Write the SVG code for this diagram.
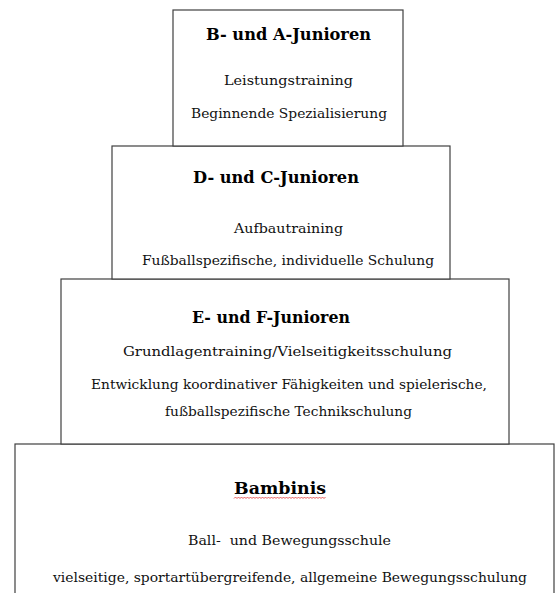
<svg xmlns="http://www.w3.org/2000/svg" width="557" height="593" viewBox="0 0 557 593">
<style>
.box{fill:#fff;stroke:#404040;stroke-width:1.2}
.t{font-family:"DejaVu Serif","Liberation Serif",serif;font-weight:bold;font-size:16px;fill:#000}
.b{font-family:"DejaVu Serif","Liberation Serif",serif;font-size:13.5px;fill:#111}
</style>
<rect width="557" height="593" fill="#fff"/>
<g id="connectors"></g>
<g id="bambinis">
<rect class="box" x="15" y="444" width="539" height="170"/>
<text class="t" x="234" y="494" textLength="92" lengthAdjust="spacingAndGlyphs">Bambinis</text>
<path d="M234 498.5 l1.5 -1.5 l1.5 1.5 l1.5 -1.5 l1.5 1.5 l1.5 -1.5 l1.5 1.5 l1.5 -1.5 l1.5 1.5 l1.5 -1.5 l1.5 1.5 l1.5 -1.5 l1.5 1.5 l1.5 -1.5 l1.5 1.5 l1.5 -1.5 l1.5 1.5 l1.5 -1.5 l1.5 1.5 l1.5 -1.5 l1.5 1.5 l1.5 -1.5 l1.5 1.5 l1.5 -1.5 l1.5 1.5 l1.5 -1.5 l1.5 1.5 l1.5 -1.5 l1.5 1.5 l1.5 -1.5 l1.5 1.5 l1.5 -1.5 l1.5 1.5 l1.5 -1.5 l1.5 1.5 l1.5 -1.5 l1.5 1.5 l1.5 -1.5 l1.5 1.5 l1.5 -1.5 l1.5 1.5 l1.5 -1.5 l1.5 1.5 l1.5 -1.5 l1.5 1.5 l1.5 -1.5 l1.5 1.5 l1.5 -1.5 l1.5 1.5 l1.5 -1.5 l1.5 1.5 l1.5 -1.5 l1.5 1.5 l1.5 -1.5 l1.5 1.5 l1.5 -1.5 l1.5 1.5 l1.5 -1.5 l1.5 1.5 l1.5 -1.5 l1.5 1.5 l1.5 -1.5" fill="none" stroke="#e03030" stroke-width="0.8"/>
<text class="b" x="188" y="545" textLength="203" lengthAdjust="spacingAndGlyphs" xml:space="preserve">Ball-  und Bewegungsschule</text>
<text class="b" x="53" y="582" textLength="474" lengthAdjust="spacingAndGlyphs">vielseitige, sportartübergreifende, allgemeine Bewegungsschulung</text>
</g>
<g id="ef-junioren">
<rect class="box" x="61" y="279" width="448" height="165"/>
<text class="t" x="192" y="323" textLength="158" lengthAdjust="spacingAndGlyphs">E- und F-Junioren</text>
<text class="b" x="123" y="356" textLength="329" lengthAdjust="spacingAndGlyphs">Grundlagentraining/Vielseitigkeitsschulung</text>
<text class="b" x="91" y="389" textLength="396" lengthAdjust="spacingAndGlyphs">Entwicklung koordinativer Fähigkeiten und spielerische,</text>
<text class="b" x="165" y="416" textLength="247" lengthAdjust="spacingAndGlyphs">fußballspezifische Technikschulung</text>
</g>
<g id="dc-junioren">
<rect class="box" x="112" y="146" width="338" height="133"/>
<text class="t" x="193" y="183" textLength="166" lengthAdjust="spacingAndGlyphs">D- und C-Junioren</text>
<text class="b" x="234" y="233" textLength="109" lengthAdjust="spacingAndGlyphs">Aufbautraining</text>
<text class="b" x="142" y="265" textLength="292" lengthAdjust="spacingAndGlyphs">Fußballspezifische, individuelle Schulung</text>
</g>
<g id="ba-junioren">
<rect class="box" x="173" y="10" width="230" height="136"/>
<text class="t" x="206" y="40" textLength="165" lengthAdjust="spacingAndGlyphs">B- und A-Junioren</text>
<text class="b" x="224" y="85" textLength="129" lengthAdjust="spacingAndGlyphs">Leistungstraining</text>
<text class="b" x="191" y="118" textLength="196" lengthAdjust="spacingAndGlyphs">Beginnende Spezialisierung</text>
</g>
</svg>
